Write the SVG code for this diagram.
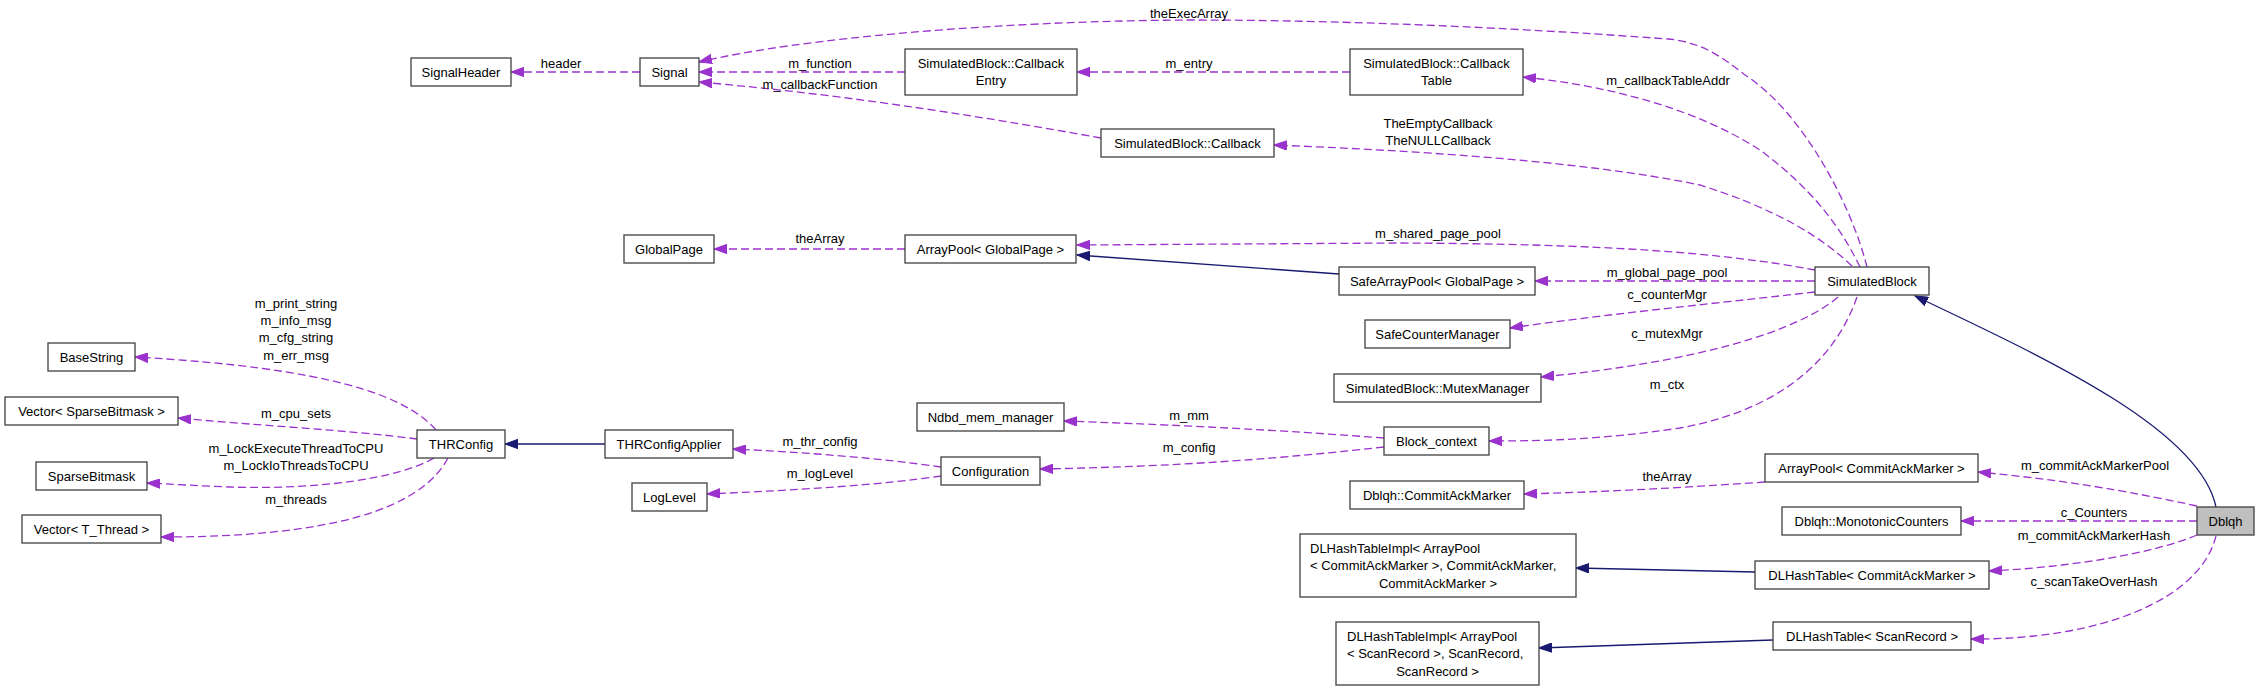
<svg xmlns="http://www.w3.org/2000/svg" width="2259" height="691" viewBox="0 0 2259 691">
<style>
text{font-family:"Liberation Sans",Arial,Helvetica,sans-serif;font-size:13px;fill:#000;text-anchor:middle}
.l{text-anchor:start}
.node rect{fill:#fff;stroke:#404040;stroke-width:1.3}
.node rect.hl{fill:#bfbfbf}
.dep{fill:none;stroke:#9a32cd;stroke-width:1.3;stroke-dasharray:8,4;marker-end:url(#ap)}
.inh{fill:none;stroke:#191970;stroke-width:1.3;marker-end:url(#an)}
</style>
<defs>
<marker id="ap" markerUnits="userSpaceOnUse" markerWidth="14" markerHeight="10" refX="13" refY="5" orient="auto" viewBox="0 0 14 10"><path d="M0,0.3 L13,5 L0,9.7 z" fill="#9a32cd" stroke="#9a32cd" stroke-width="1"/></marker>
<marker id="an" markerUnits="userSpaceOnUse" markerWidth="14" markerHeight="10" refX="13" refY="5" orient="auto" viewBox="0 0 14 10"><path d="M0,0.3 L13,5 L0,9.7 z" fill="#191970" stroke="#191970" stroke-width="1"/></marker>
</defs>
<rect width="2259" height="691" fill="#fff"/>
<g id="connectors">
<path class="dep" d="M640,72 L511,72"/>
<path class="dep" d="M905,72 L699,72"/>
<path class="dep" d="M1101,138 C1000,120 860,96 699,82"/>
<path class="dep" d="M1867,267 C1850,200 1800,110 1745,75 C1720,55 1700,42 1668,39 C1600,34 1400,20 1189,20 C1000,21 800,38 699,62"/>
<path class="dep" d="M1350,72 L1077,72"/>
<path class="dep" d="M1860,267 C1835,215 1800,180 1760,150 C1690,105 1600,85 1523,77"/>
<path class="dep" d="M1852,266 C1825,240 1780,210 1700,185 C1580,160 1400,150 1274,145"/>
<path class="dep" d="M905,249 L714,249"/>
<path class="dep" d="M1815,270 C1720,252 1600,244 1400,243 L1077,245"/>
<path class="inh" d="M1339,274 L1077,255"/>
<path class="dep" d="M1815,281 L1535,281"/>
<path class="dep" d="M1815,292 C1700,305 1600,315 1510,328"/>
<path class="dep" d="M1838,297 C1800,330 1700,362 1541,377"/>
<path class="dep" d="M1857,297 C1835,360 1780,410 1680,428 C1600,440 1540,441 1489,441"/>
<path class="inh" d="M605,444 L505,444"/>
<path class="dep" d="M436,430 C405,395 330,368 135,357"/>
<path class="dep" d="M417,439 C350,430 250,425 178,418"/>
<path class="dep" d="M434,458 C400,478 320,490 230,487 C200,486 170,484 147,483"/>
<path class="dep" d="M448,458 C420,510 330,537 161,537"/>
<path class="dep" d="M941,467 C880,458 800,452 733,449"/>
<path class="dep" d="M941,476 C880,485 800,490 707,494"/>
<path class="dep" d="M1384,438 C1250,428 1150,424 1064,421"/>
<path class="dep" d="M1384,447 C1250,462 1150,467 1040,469"/>
<path class="dep" d="M1765,482 C1680,488 1600,492 1524,494"/>
<path class="dep" d="M2197,506 C2100,485 2040,478 1978,472"/>
<path class="dep" d="M2197,521 L1961,521"/>
<path class="dep" d="M2197,535 C2150,555 2060,568 1989,571"/>
<path class="dep" d="M2216,536 C2200,600 2100,640 1971,639"/>
<path class="inh" d="M1755,572 L1576,568"/>
<path class="inh" d="M1773,640 L1539,648"/>
<path class="inh" d="M2216,507 C2200,430 2050,360 1915,296"/>
<text x="561" y="67.5">header</text>
<text x="820" y="67.5">m_function</text>
<text x="820" y="88.5">m_callbackFunction</text>
<text x="1189" y="17.5">theExecArray</text>
<text x="1189" y="67.5">m_entry</text>
<text x="1668" y="84.5">m_callbackTableAddr</text>
<text x="1438" y="127.5">TheEmptyCallback</text>
<text x="1438" y="144.5">TheNULLCallback</text>
<text x="820" y="242.5">theArray</text>
<text x="1438" y="237.5">m_shared_page_pool</text>
<text x="1667" y="276.5">m_global_page_pool</text>
<text x="1667" y="298.5">c_counterMgr</text>
<text x="1667" y="337.5">c_mutexMgr</text>
<text x="1667" y="388.5">m_ctx</text>
<text x="296" y="307.5">m_print_string</text>
<text x="296" y="324.5">m_info_msg</text>
<text x="296" y="341.5">m_cfg_string</text>
<text x="296" y="359.5">m_err_msg</text>
<text x="296" y="417.5">m_cpu_sets</text>
<text x="296" y="452.5">m_LockExecuteThreadToCPU</text>
<text x="296" y="469.5">m_LockIoThreadsToCPU</text>
<text x="296" y="503.5">m_threads</text>
<text x="820" y="445.5">m_thr_config</text>
<text x="820" y="477.5">m_logLevel</text>
<text x="1189" y="419.5">m_mm</text>
<text x="1189" y="451.5">m_config</text>
<text x="1667" y="480.5">theArray</text>
<text x="2095" y="469.5">m_commitAckMarkerPool</text>
<text x="2094" y="516.5">c_Counters</text>
<text x="2094" y="539.5">m_commitAckMarkerHash</text>
<text x="2094" y="585.5">c_scanTakeOverHash</text>
</g>
<g id="SignalHeader" class="node"><rect x="411" y="58" width="100" height="28"/><text x="461" y="76.5">SignalHeader</text></g>
<g id="Signal" class="node"><rect x="640" y="58" width="59" height="28"/><text x="669.5" y="76.5">Signal</text></g>
<g id="CallbackEntry" class="node"><rect x="905" y="49" width="172" height="46"/><text x="991" y="68">SimulatedBlock::Callback</text><text x="991" y="85">Entry</text></g>
<g id="CallbackTable" class="node"><rect x="1350" y="49" width="173" height="46"/><text x="1436.5" y="68">SimulatedBlock::Callback</text><text x="1436.5" y="85">Table</text></g>
<g id="Callback" class="node"><rect x="1101" y="129" width="173" height="28"/><text x="1187.5" y="147.5">SimulatedBlock::Callback</text></g>
<g id="GlobalPage" class="node"><rect x="624" y="235" width="90" height="28"/><text x="669" y="253.5">GlobalPage</text></g>
<g id="ArrayPoolGlobalPage" class="node"><rect x="905" y="235" width="171" height="28"/><text x="990.5" y="253.5">ArrayPool&lt; GlobalPage &gt;</text></g>
<g id="SafeArrayPool" class="node"><rect x="1339" y="267" width="196" height="28"/><text x="1437" y="285.5">SafeArrayPool&lt; GlobalPage &gt;</text></g>
<g id="SimulatedBlock" class="node"><rect x="1815" y="267" width="114" height="28"/><text x="1872" y="285.5">SimulatedBlock</text></g>
<g id="SafeCounterManager" class="node"><rect x="1365" y="320" width="145" height="28"/><text x="1437.5" y="338.5">SafeCounterManager</text></g>
<g id="MutexManager" class="node"><rect x="1334" y="374" width="207" height="28"/><text x="1437.5" y="392.5">SimulatedBlock::MutexManager</text></g>
<g id="Ndbd_mem_manager" class="node"><rect x="917" y="403" width="147" height="28"/><text x="990.5" y="421.5">Ndbd_mem_manager</text></g>
<g id="Block_context" class="node"><rect x="1384" y="427" width="105" height="28"/><text x="1436.5" y="445.5">Block_context</text></g>
<g id="BaseString" class="node"><rect x="48" y="343" width="87" height="28"/><text x="91.5" y="361.5">BaseString</text></g>
<g id="VectorSparseBitmask" class="node"><rect x="5" y="397" width="173" height="28"/><text x="91.5" y="415.5">Vector&lt; SparseBitmask &gt;</text></g>
<g id="THRConfig" class="node"><rect x="417" y="430" width="88" height="28"/><text x="461" y="448.5">THRConfig</text></g>
<g id="THRConfigApplier" class="node"><rect x="605" y="430" width="128" height="28"/><text x="669" y="448.5">THRConfigApplier</text></g>
<g id="SparseBitmask" class="node"><rect x="36" y="462" width="111" height="28"/><text x="91.5" y="480.5">SparseBitmask</text></g>
<g id="Configuration" class="node"><rect x="941" y="457" width="99" height="28"/><text x="990.5" y="475.5">Configuration</text></g>
<g id="LogLevel" class="node"><rect x="632" y="483" width="75" height="28"/><text x="669.5" y="501.5">LogLevel</text></g>
<g id="VectorTThread" class="node"><rect x="22" y="515" width="139" height="28"/><text x="91.5" y="533.5">Vector&lt; T_Thread &gt;</text></g>
<g id="ArrayPoolCommitAckMarker" class="node"><rect x="1765" y="454" width="213" height="28"/><text x="1871.5" y="472.5">ArrayPool&lt; CommitAckMarker &gt;</text></g>
<g id="DblqhCommitAckMarker" class="node"><rect x="1350" y="481" width="174" height="28"/><text x="1437" y="499.5">Dblqh::CommitAckMarker</text></g>
<g id="MonotonicCounters" class="node"><rect x="1782" y="507" width="179" height="28"/><text x="1871.5" y="525.5">Dblqh::MonotonicCounters</text></g>
<g id="Dblqh" class="node"><rect class="hl" x="2197" y="507" width="57" height="28"/><text x="2225.5" y="525.5">Dblqh</text></g>
<g id="DLHashTableImplCAM" class="node"><rect x="1300" y="534" width="276" height="63"/><text class="l" x="1310" y="552.5">DLHashTableImpl&lt; ArrayPool</text><text class="l" x="1310" y="570">&lt; CommitAckMarker &gt;, CommitAckMarker,</text><text x="1438" y="587.5">CommitAckMarker &gt;</text></g>
<g id="DLHashTableCAM" class="node"><rect x="1755" y="561" width="234" height="28"/><text x="1872" y="579.5">DLHashTable&lt; CommitAckMarker &gt;</text></g>
<g id="DLHashTableImplSR" class="node"><rect x="1336" y="622" width="203" height="63"/><text class="l" x="1347" y="640.5">DLHashTableImpl&lt; ArrayPool</text><text class="l" x="1347" y="658">&lt; ScanRecord &gt;, ScanRecord,</text><text x="1437.5" y="675.5">ScanRecord &gt;</text></g>
<g id="DLHashTableSR" class="node"><rect x="1773" y="622" width="198" height="28"/><text x="1872" y="640.5">DLHashTable&lt; ScanRecord &gt;</text></g>
</svg>
